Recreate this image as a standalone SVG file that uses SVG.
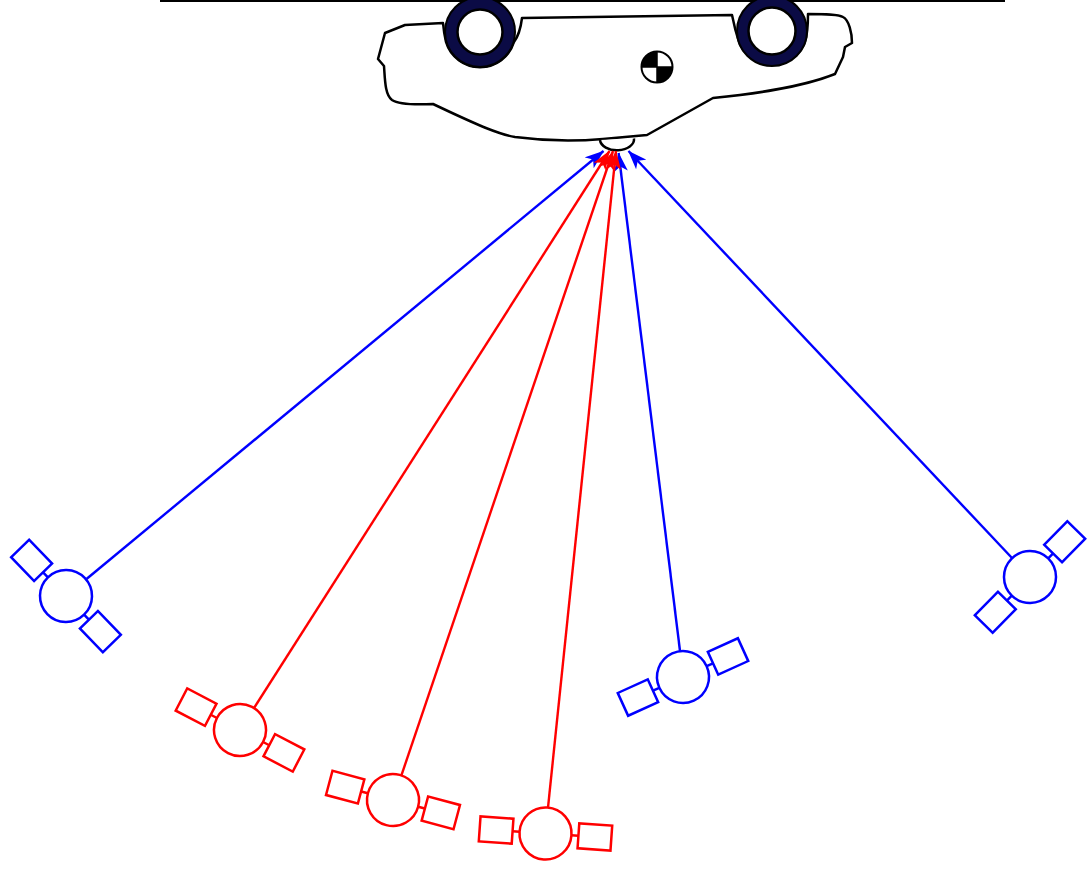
<svg xmlns="http://www.w3.org/2000/svg" xmlns:xlink="http://www.w3.org/1999/xlink" width="1087" height="869" viewBox="0 0 1087 869">
  <style>
    .outline { fill: #ffffff; stroke: #000000; stroke-width: 2.5; stroke-linejoin: round; }
    .tyre { fill: #0b0b45; stroke: #000000; stroke-width: 2; }
    .rim { fill: #ffffff; stroke: #000000; stroke-width: 2.5; }
    .link { fill: none; stroke-width: 2.4; }
    .link.blue { stroke: #0000ff; }
    .link.red { stroke: #ff0000; }
    .sat { fill: #ffffff; stroke: currentColor; stroke-width: 2.5; }
  </style>
  <defs>
    <marker id="head-blue" viewBox="0 0 19 14" refX="18.5" refY="7" markerWidth="19" markerHeight="14" orient="auto" markerUnits="userSpaceOnUse">
      <path d="M0,0 L19,7 L0,14 L5,7 Z" fill="#0000ff"/>
    </marker>
    <marker id="head-red" viewBox="0 0 19 14" refX="18.5" refY="7" markerWidth="19" markerHeight="14" orient="auto" markerUnits="userSpaceOnUse">
      <path d="M0,0 L19,7 L0,14 L5,7 Z" fill="#ff0000"/>
    </marker>
    <!-- satellite: round body with two solar panels on a common axis -->
    <g id="satellite" class="sat">
      <line x1="26" y1="0" x2="33" y2="0"/>
      <line x1="-26" y1="0" x2="-33" y2="0"/>
      <rect x="33" y="-12.5" width="33" height="25"/>
      <rect x="-66" y="-12.5" width="33" height="25"/>
      <circle cx="0" cy="0" r="26"/>
    </g>
  </defs>

  <rect width="1087" height="869" fill="#ffffff"/>

  <!-- ground line -->
  <g id="ground">
    <line x1="160" y1="1" x2="1005" y2="1" stroke="#000000" stroke-width="2"/>
  </g>

  <!-- overturned car -->
  <g id="car">
    <path class="outline" d="M443,23 L405,25 L385,33 L378,59 L384,66 C385,80 385,95 392,100 C398,104 412,105 433,104 L450,112 C478,125 498,134 515,137 C545,141 580,141 603,139 L647,135 L713,98 C752,94 800,88 835,74 L843,57 L845,47 L852,43 C852,33 849,20 843,17 C838,14 825,14 808,14 Q808,32 805,42 A35.5,35.5 0 0 1 739,42 Q735,30 732,15 L522,18 Q520,34 514,42 A35.5,35.5 0 0 1 446,42 Q444,34 443,23 Z"/>
    <circle class="tyre" cx="480" cy="32" r="35"/>
    <circle class="rim" cx="480" cy="32" r="22.5"/>
    <circle class="tyre" cx="772" cy="31" r="35"/>
    <circle class="rim" cx="772" cy="31" r="23.5"/>
    <!-- centre of gravity mark -->
    <g id="cg">
      <circle cx="657" cy="67" r="15.5" fill="#ffffff" stroke="#000000" stroke-width="2"/>
      <path d="M657,67 L641.5,67 A15.5,15.5 0 0 1 657,51.5 Z" fill="#000000"/>
      <path d="M657,67 L672.5,67 A15.5,15.5 0 0 1 657,82.5 Z" fill="#000000"/>
      <line x1="642" y1="67" x2="672" y2="67" stroke="#000000" stroke-width="1.5"/>
      <line x1="657" y1="52" x2="657" y2="82" stroke="#000000" stroke-width="1.5"/>
    </g>
  </g>

  <!-- receiver antenna under the body -->
  <g id="antenna">
    <path d="M600,140 A17,11 0 0 0 634,138.5" fill="#ffffff" stroke="#000000" stroke-width="2.5"/>
  </g>

  <!-- signal paths from satellites to the antenna -->
  <g id="connectors">
    <line class="link blue" x1="86.5" y1="579" x2="603.5" y2="151" marker-end="url(#head-blue)"/>
    <line class="link blue" x1="680" y1="651" x2="618.6" y2="153" marker-end="url(#head-blue)"/>
    <line class="link blue" x1="1012" y1="558" x2="628.5" y2="151" marker-end="url(#head-blue)"/>
    <line class="link red" x1="254" y1="708" x2="609.5" y2="151" marker-end="url(#head-red)"/>
    <line class="link red" x1="401.4" y1="775.4" x2="613" y2="151" marker-end="url(#head-red)"/>
    <line class="link red" x1="548" y1="807.6" x2="616" y2="151" marker-end="url(#head-red)"/>
  </g>

  <!-- satellites -->
  <g id="sat-blue-1" color="#0000ff" transform="translate(66,596) rotate(46)"><use xlink:href="#satellite" href="#satellite"/></g>
  <g id="sat-red-1" color="#ff0000" transform="translate(240,730) rotate(27.5)"><use xlink:href="#satellite" href="#satellite"/></g>
  <g id="sat-red-2" color="#ff0000" transform="translate(393,800) rotate(15)"><use xlink:href="#satellite" href="#satellite"/></g>
  <g id="sat-red-3" color="#ff0000" transform="translate(545.5,833.5) rotate(4)"><use xlink:href="#satellite" href="#satellite"/></g>
  <g id="sat-blue-2" color="#0000ff" transform="translate(683,677) rotate(-24.5)"><use xlink:href="#satellite" href="#satellite"/></g>
  <g id="sat-blue-3" color="#0000ff" transform="translate(1030,577) rotate(-45.5)"><use xlink:href="#satellite" href="#satellite"/></g>
</svg>
